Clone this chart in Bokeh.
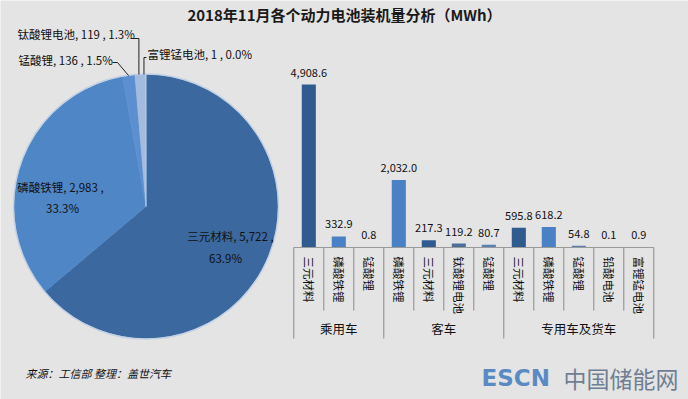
import numpy as np
from bokeh.plotting import figure
from bokeh.models import Range1d, ColumnDataSource
from bokeh.core.properties import value
from bokeh.embed import file_html
from bokeh.resources import INLINE

# ---------------- data ----------------
title_text = "2018年11月各个动力电池装机量分析（MWh）"
source_text = "来源：工信部 整理：盖世汽车"

pie_names = ["三元材料", "磷酸铁锂", "锰酸锂", "钛酸锂电池", "富锂锰电池"]
pie_values = [5722, 2983, 136, 119, 1]

bar_groups = ["乘用车", "客车", "专用车及货车"]
bar_group_sizes = [3, 4, 5]
bar_materials = ["三元材料", "磷酸铁锂", "锰酸锂",
                 "磷酸铁锂", "三元材料", "钛酸锂电池", "锰酸锂",
                 "三元材料", "磷酸铁锂", "锰酸锂", "铅酸电池", "富锂锰电池"]
bar_values = [4908.6, 332.9, 0.8,
              2032.0, 217.3, 119.2, 80.7,
              595.8, 618.2, 54.8, 0.1, 0.9]

# ---------------- styles ----------------
BG = "#e4e4e4"
FONT = value("Noto Sans CJK SC")
pie_colors = {"三元材料": "#3a689f", "磷酸铁锂": "#4f86c6", "锰酸锂": "#5b8fcf",
              "钛酸锂电池": "#a3bbdf", "富锂锰电池": "#c4d3ea"}
bar_colors = {"三元材料": "#2f5b8f", "磷酸铁锂": "#4a80c4", "锰酸锂": "#5a80b2",
              "钛酸锂电池": "#4d6e99", "铅酸电池": "#6a8cb8", "富锂锰电池": "#7a9cc8"}

W, H = 688, 399


def Y(r):
    # page-pixel row -> data y
    return H - r


p = figure(width=W, height=H, x_range=Range1d(0, W), y_range=Range1d(0, H),
           x_axis_location=None, y_axis_location=None, toolbar_location=None,
           output_backend="svg", min_border=0, background_fill_color=BG,
           border_fill_color=BG, outline_line_color=None)
p.grid.visible = False

# ---------------- title ----------------
p.text(x=[344], y=[Y(14)], text=[title_text], text_font=FONT, text_font_size="15px",
       text_font_style="bold", text_align="center", text_baseline="middle", text_color="#1a1a1a")

# ---------------- pie ----------------
CX, CY, R = 145.5, Y(206), 132
vals = np.array(pie_values, dtype=float)
fr = vals / vals.sum()
cum = np.concatenate([[0.0], np.cumsum(fr)])
start = np.pi / 2 - 2 * np.pi * cum[:-1]
end = np.pi / 2 - 2 * np.pi * cum[1:]
mid = (start + end) / 2
pie_src = ColumnDataSource(dict(start=start, end=end, color=[pie_colors[n] for n in pie_names]))
p.wedge(x=CX, y=CY, radius=R, start_angle="start", end_angle="end", direction="clock",
        fill_color="color", line_color="color", line_width=0.5, source=pie_src)
p.circle(x=[CX], y=[CY], radius=R + 0.5, fill_color=None, line_color="#c3d1e4", line_width=1.5)

pct = [f"{f * 100:.1f}%" for f in fr]
edge_x = CX + R * np.cos(mid)
edge_y = CY + R * np.sin(mid)

lab_kw = dict(text_font=FONT, text_font_size="11.5px", text_color="#111111", text_baseline="middle")
# big slices: two-line labels inside
p.text(x=[230, 225], y=[Y(235), Y(257)],
       text=[f"{pie_names[0]}, {pie_values[0]:,} ,", pct[0]], text_align="center", **lab_kw)
p.text(x=[60, 62], y=[Y(186), Y(207)],
       text=[f"{pie_names[1]}, {pie_values[1]:,} ,", pct[1]], text_align="center", **lab_kw)
# small slices: outside labels
p.text(x=[18, 17, 147], y=[Y(59), Y(33), Y(53)],
       text=[f"{pie_names[i]}, {pie_values[i]} , {pct[i]}" for i in (2, 3, 4)],
       text_align="left", **lab_kw)
# leader lines
p.multi_line(xs=[[112, 117, edge_x[2]], [130, edge_x[3] - 1.5, edge_x[3] - 1.5],
                 [146, edge_x[4] - 2, edge_x[4] - 2]],
             ys=[[Y(62), Y(62), edge_y[2]], [Y(38), Y(38), edge_y[3]],
                 [Y(57), Y(57), edge_y[4]]],
             line_color="#222222", line_width=1)

# ---------------- bars ----------------
k = 163 / 4908.6          # px per MWh
BASE = 247                # baseline page row
p.extra_y_ranges = {"val": Range1d(-(H - BASE) / k, BASE / k)}
X0, STEP = 308.3, 30.0
p.extra_x_ranges = {"cat": Range1d(-X0 / STEP, -X0 / STEP + W / STEP)}

idx = np.arange(len(bar_values))
bar_src = ColumnDataSource(dict(
    x=idx, top=bar_values, color=[bar_colors[m] for m in bar_materials],
    lab=[f"{v:,.1f}" for v in bar_values], name=bar_materials))
p.vbar(x="x", top="top", bottom=0, width=0.47, fill_color="color", line_color=None,
       x_range_name="cat", y_range_name="val", source=bar_src)
p.text(x="x", y="top", text="lab", x_range_name="cat", y_range_name="val", source=bar_src,
       text_font=FONT, text_font_size="11px", text_color="#111111", text_align="center",
       text_baseline="bottom", y_offset=-8)

# category axis: baseline, separators, labels
n = len(bar_values)
p.segment(x0=[-0.5], x1=[n - 0.5], y0=[Y(BASE)], y1=[Y(BASE)], x_range_name="cat",
          line_color="#9a9a9a", line_width=1)
group_edges = set(np.concatenate([[0], np.cumsum(bar_group_sizes)]).tolist())
bx = np.arange(n + 1) - 0.5
by = [Y(338) if b in group_edges else Y(310) for b in range(n + 1)]
p.segment(x0=bx, x1=bx, y0=[Y(BASE)] * (n + 1), y1=by, x_range_name="cat",
          line_color="#8a8a8a", line_width=1)
p.text(x="x", y=Y(256), text="name", source=bar_src, x_range_name="cat",
       angle=-np.pi / 2, text_font=FONT, text_font_size="11.5px", text_color="#111111",
       text_align="left", text_baseline="middle")
gstart = np.concatenate([[0], np.cumsum(bar_group_sizes)[:-1]])
gcent = gstart + np.array(bar_group_sizes) / 2 - 0.5
p.text(x=gcent, y=[Y(328)] * len(bar_groups), text=bar_groups, x_range_name="cat",
       text_font=FONT, text_font_size="12.5px", text_color="#111111",
       text_align="center", text_baseline="middle")

# ---------------- footer ----------------
p.text(x=[25], y=[Y(372)], text=[source_text], text_font=FONT, text_font_size="11px",
       text_font_style="italic", text_color="#111111", text_align="left", text_baseline="middle")
p.text(x=[481], y=[Y(377)], text=["ESCN"], text_font=value("DejaVu Sans"), text_font_size="23px",
       text_font_style="bold", text_color="#5a8ac4", text_align="left", text_baseline="middle")
p.text(x=[563], y=[Y(377)], text=["中国储能网"], text_font=FONT, text_font_size="23px",
       text_color="#6f7f93", text_align="left", text_baseline="middle")

open("out.html", "w").write(file_html(p, INLINE))
